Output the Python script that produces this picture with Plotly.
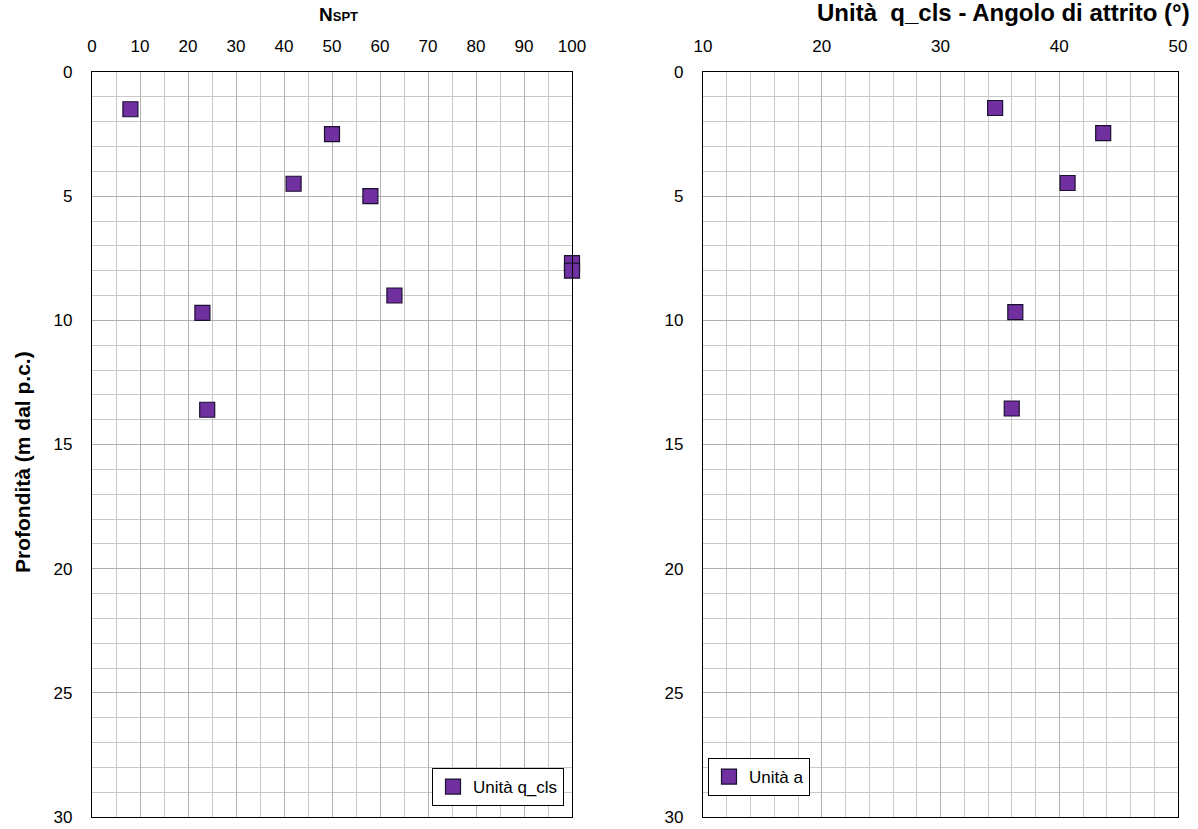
import plotly.graph_objects as go

# Data
nspt_values = [8, 50, 42, 58, 100, 100, 63, 23, 24]
nspt_depths = [1.5, 2.5, 4.5, 5.0, 7.7, 8.0, 9.0, 9.7, 13.6]
phi_values = [34.6, 43.7, 40.7, 36.3, 36.0]
phi_depths = [1.45, 2.46, 4.47, 9.67, 13.55]
left_series = "Unità q_cls"
right_series = "Unità a"

W, H = 1198, 829
FONT = "Liberation Sans, Arial, sans-serif"
PURPLE = "#7030A0"

def px_x(p):
    return p / W

def px_y(p):
    return 1 - p / H

fig = go.Figure()
fig.add_trace(go.Scatter(
    x=nspt_values, y=nspt_depths, mode="markers", name=left_series,
    marker=dict(symbol="square", size=15, color=PURPLE, line=dict(color="#1a1030", width=1.2)),
    xaxis="x", yaxis="y", cliponaxis=False, legend="legend"))
fig.add_trace(go.Scatter(
    x=phi_values, y=phi_depths, mode="markers", name=right_series,
    marker=dict(symbol="square", size=15, color=PURPLE, line=dict(color="#1a1030", width=1.2)),
    xaxis="x2", yaxis="y2", cliponaxis=False, legend="legend2"))

ydom = [px_y(817), px_y(72)]
common_y = dict(range=[30, 0], dtick=5, showgrid=True, gridcolor="#b0b0b0", gridwidth=1,
                minor=dict(dtick=1, showgrid=True, gridcolor="#c8c8c8", gridwidth=1),
                showline=True, linecolor="black", linewidth=1.2, mirror=True,
                ticks="", zeroline=False, automargin=False, ticklabelstandoff=15,
                ticklabeloverflow="allow",
                tickfont=dict(family=FONT, size=17, color="black"),
                domain=ydom)
common_x = dict(side="top", showgrid=True, gridcolor="#b0b0b0", gridwidth=1,
                showline=True, linecolor="black", linewidth=1.2, mirror=True,
                ticks="", zeroline=False, automargin=False, ticklabelstandoff=12,
                ticklabeloverflow="allow",
                tickfont=dict(family=FONT, size=17, color="black"))

fig.update_layout(
    width=W, height=H, autosize=False,
    margin=dict(l=0, r=0, t=0, b=0),
    paper_bgcolor="white", plot_bgcolor="white",
    font=dict(family=FONT, color="black"),
    xaxis=dict(common_x, range=[0, 100], dtick=10, domain=[px_x(92), px_x(572)], anchor="y",
               minor=dict(dtick=5, showgrid=True, gridcolor="#c8c8c8", gridwidth=1)),
    yaxis=dict(common_y, anchor="x"),
    xaxis2=dict(common_x, range=[10, 50], dtick=10, domain=[px_x(703), px_x(1178)], anchor="y2",
                minor=dict(dtick=2, showgrid=True, gridcolor="#c8c8c8", gridwidth=1)),
    yaxis2=dict(common_y, anchor="x2"),
    legend=dict(x=px_x(432), y=px_y(768), xanchor="left", yanchor="top",
                bordercolor="black", borderwidth=1, bgcolor="white",
                font=dict(family=FONT, size=17, color="black"), itemwidth=30),
    legend2=dict(x=px_x(708), y=px_y(758), xanchor="left", yanchor="top",
                 bordercolor="black", borderwidth=1, bgcolor="white",
                 font=dict(family=FONT, size=17, color="black"), itemwidth=30),
    showlegend=True,
)

fig.add_annotation(text="<b>N<span style='font-size:13px'>SPT</span></b>",
                   x=px_x(338), y=px_y(14), xref="paper", yref="paper",
                   xanchor="center", yanchor="middle",
                   showarrow=False, font=dict(family=FONT, size=19, color="black"))
fig.add_annotation(text="<b>Unità  q_cls - Angolo di attrito (°)</b>",
                   x=px_x(1003), y=px_y(13), xref="paper", yref="paper",
                   xanchor="center", yanchor="middle",
                   showarrow=False, font=dict(family=FONT, size=24, color="black"))
fig.add_annotation(text="<b>Profondità (m dal p.c.)</b>",
                   x=px_x(22), y=px_y(462), xref="paper", yref="paper", textangle=-90,
                   xanchor="center", yanchor="middle",
                   showarrow=False, font=dict(family=FONT, size=21, color="black"))

fig.write_html("out.html", config={"displayModeBar": False},
               post_script="document.body.style.margin='0';")
